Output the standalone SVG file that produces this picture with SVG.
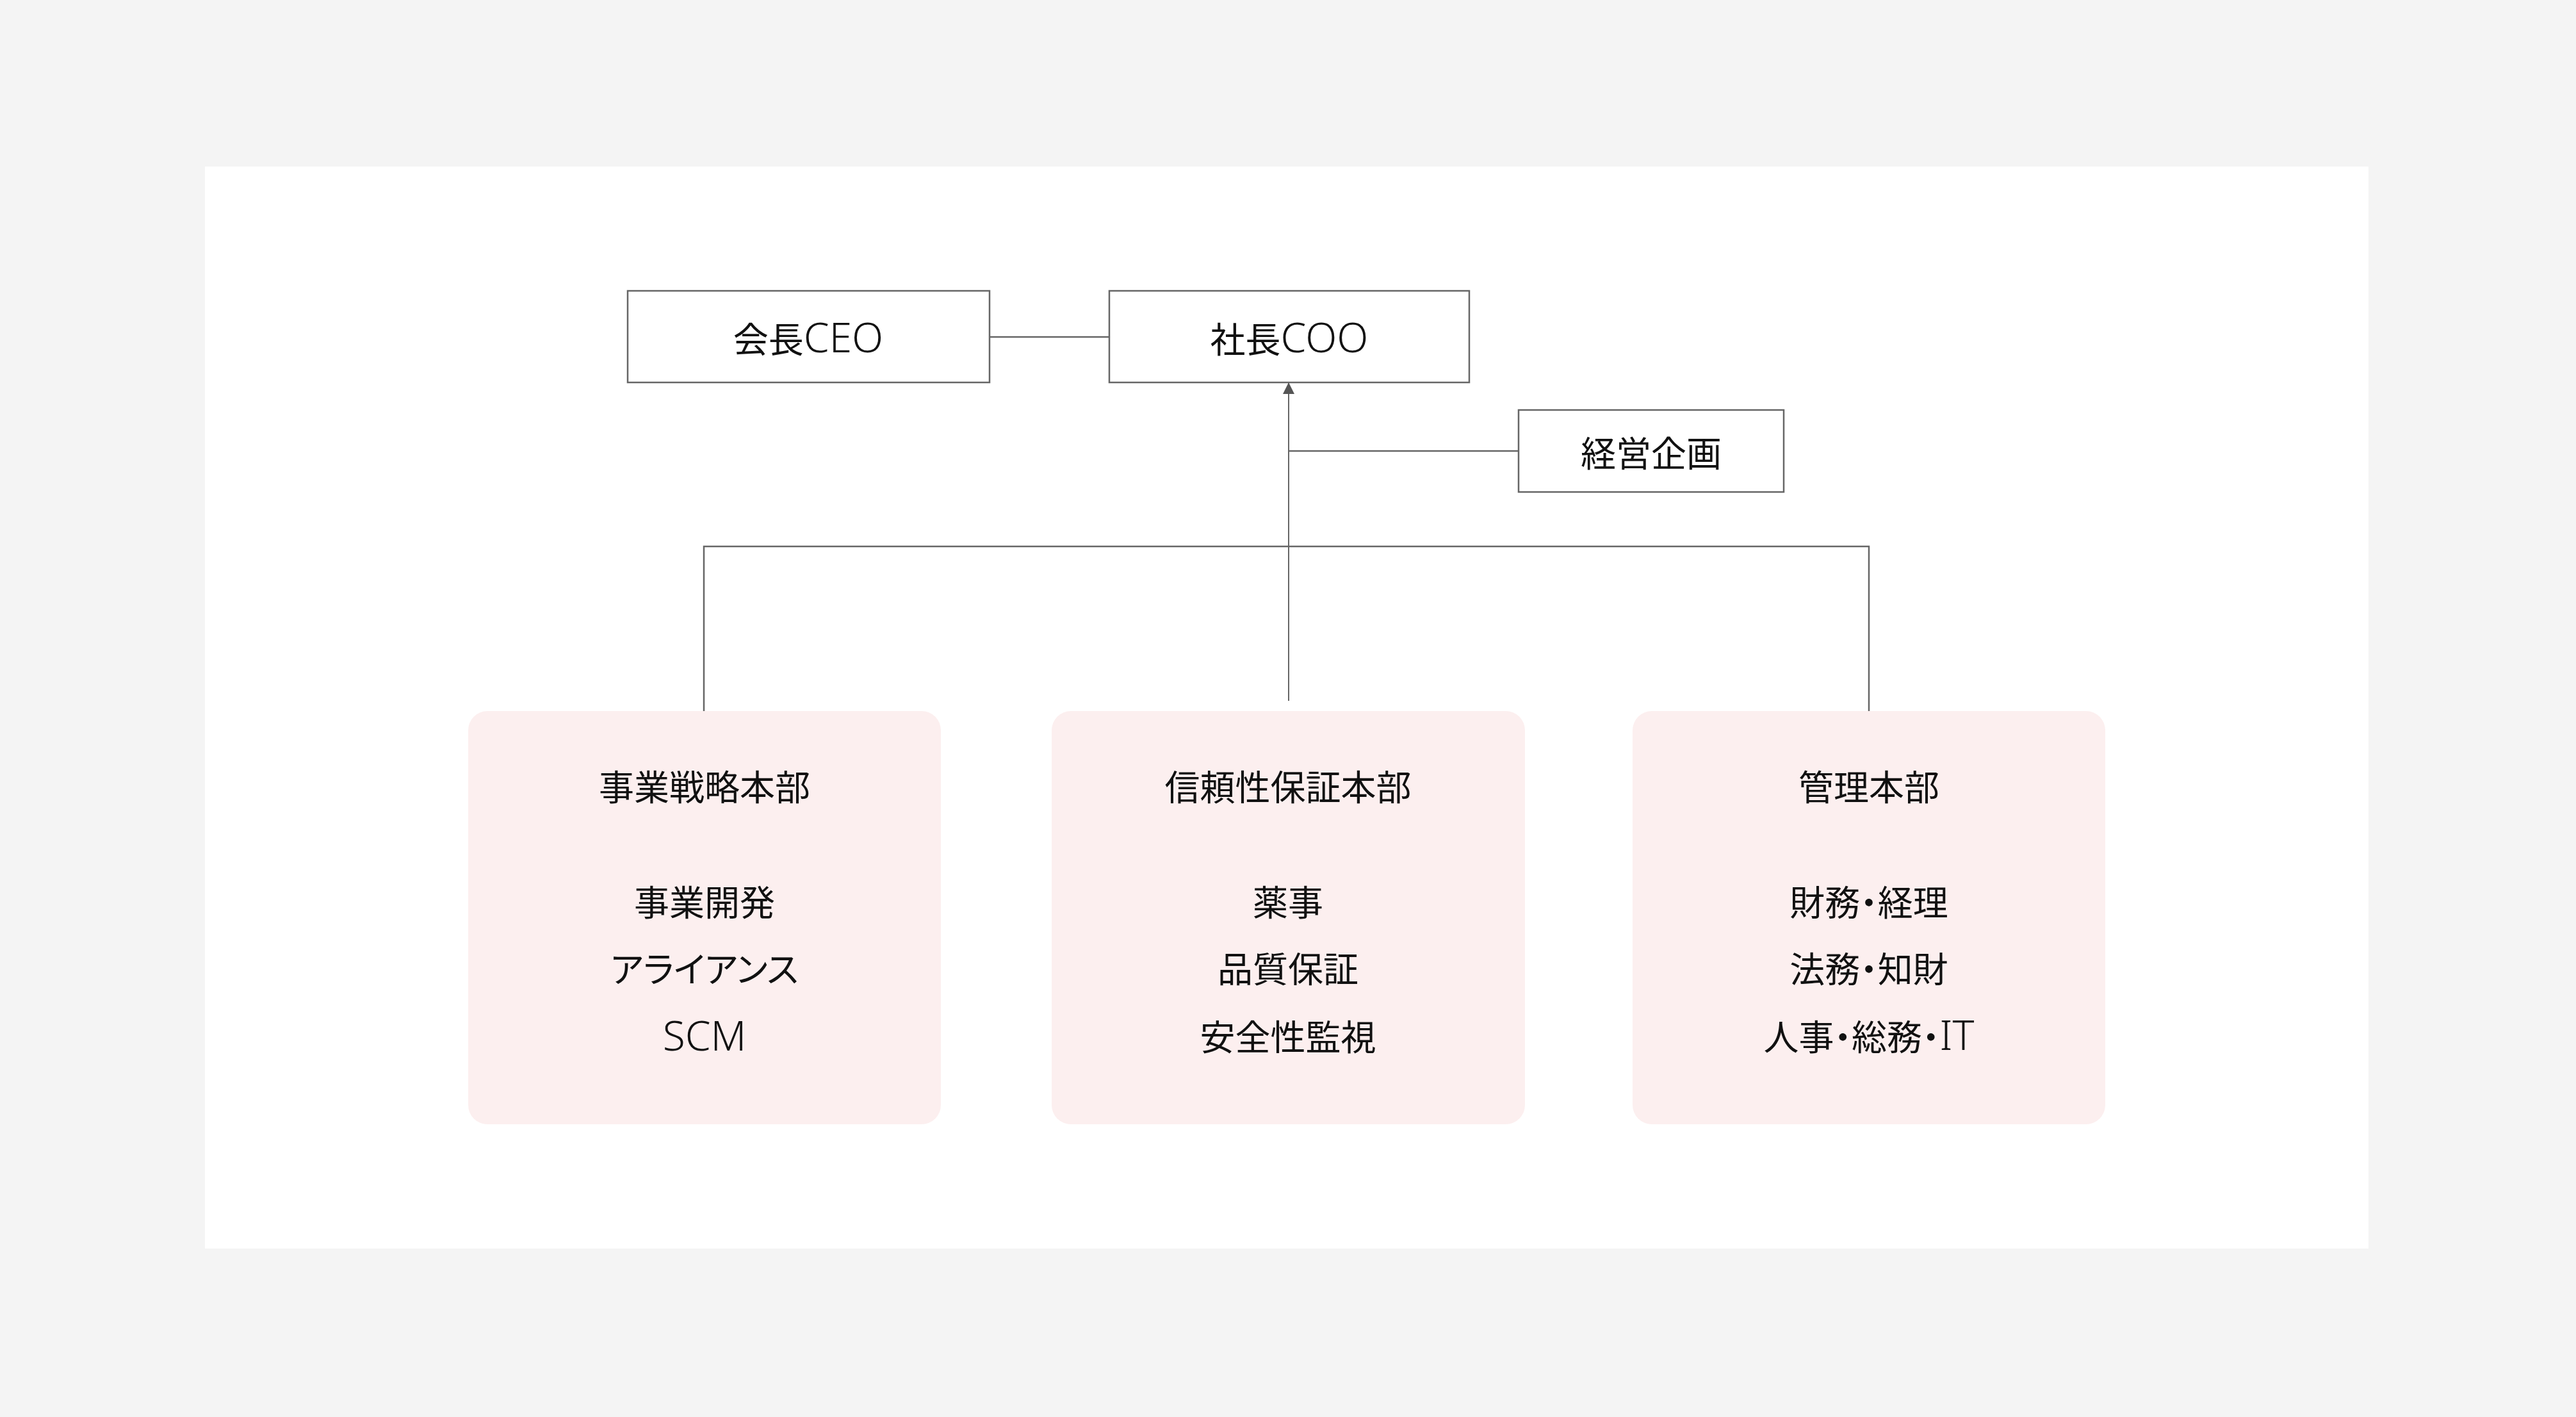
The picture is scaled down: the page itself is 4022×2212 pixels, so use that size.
<svg xmlns="http://www.w3.org/2000/svg" width="4022" height="2212" viewBox="0 0 4022 2212">
<style>
.t{font-family:"Noto Sans CJK JP","Noto Sans",sans-serif;font-size:55px;fill:#111;text-anchor:middle;font-feature-settings:"palt"}
.l{font-family:"Noto Sans","Noto Sans CJK JP",sans-serif;font-size:64px;font-weight:300}
.box{fill:#fff;stroke:#666;stroke-width:2.5}
.dept{fill:#fcefef}
.ln{fill:none;stroke:#666;stroke-width:2.5}
.ln2{fill:none;stroke:#666;stroke-width:2}
</style>
<defs>
<marker id="arr" viewBox="0 0 18 18" refX="18" refY="9" markerWidth="18" markerHeight="18" markerUnits="userSpaceOnUse" orient="auto">
<path d="M0,0 L18,9 L0,18 z" fill="#555"/>
</marker>
</defs>
<rect width="4022" height="2212" fill="#f4f4f4"/>
<rect x="320" y="260" width="3378" height="1689" fill="#fff"/>
<g id="connectors">
<line class="ln" x1="1545" y1="526" x2="1732" y2="526"/>
<line class="ln2" x1="2012" y1="1094" x2="2012" y2="597" marker-end="url(#arr)"/>
<line class="ln" x1="2012" y1="704" x2="2371" y2="704"/>
<polyline class="ln" points="1099,1110 1099,853 2918,853 2918,1110"/>
</g>
<g id="ceo">
<rect class="box" x="980" y="454" width="565" height="143"/>
<text class="t" x="1262" y="550">会長<tspan class="l">CEO</tspan></text>
</g>
<g id="coo">
<rect class="box" x="1732" y="454" width="562" height="143"/>
<text class="t" x="2013" y="550">社長<tspan class="l">COO</tspan></text>
</g>
<g id="keiei">
<rect class="box" x="2371" y="640" width="414" height="128"/>
<text class="t" x="2578" y="728">経営企画</text>
</g>
<g id="jigyo">
<rect class="dept" x="731" y="1110" width="738" height="645" rx="30"/>
<text class="t" x="1100" y="1249">事業戦略本部</text>
<text class="t" x="1100" y="1429">事業開発</text>
<text class="t" x="1100" y="1533">アライアンス</text>
<text class="t" x="1100" y="1640"><tspan class="l">SCM</tspan></text>
</g>
<g id="shinrai">
<rect class="dept" x="1642" y="1110" width="739" height="645" rx="30"/>
<text class="t" x="2011" y="1249">信頼性保証本部</text>
<text class="t" x="2011" y="1429">薬事</text>
<text class="t" x="2011" y="1533">品質保証</text>
<text class="t" x="2011" y="1639">安全性監視</text>
</g>
<g id="kanri">
<rect class="dept" x="2549" y="1110" width="738" height="645" rx="30"/>
<text class="t" x="2918" y="1249">管理本部</text>
<text class="t" x="2918" y="1429">財務・経理</text>
<text class="t" x="2918" y="1533">法務・知財</text>
<text class="t" x="2918" y="1639">人事・総務・<tspan class="l">IT</tspan></text>
</g>
</svg>
